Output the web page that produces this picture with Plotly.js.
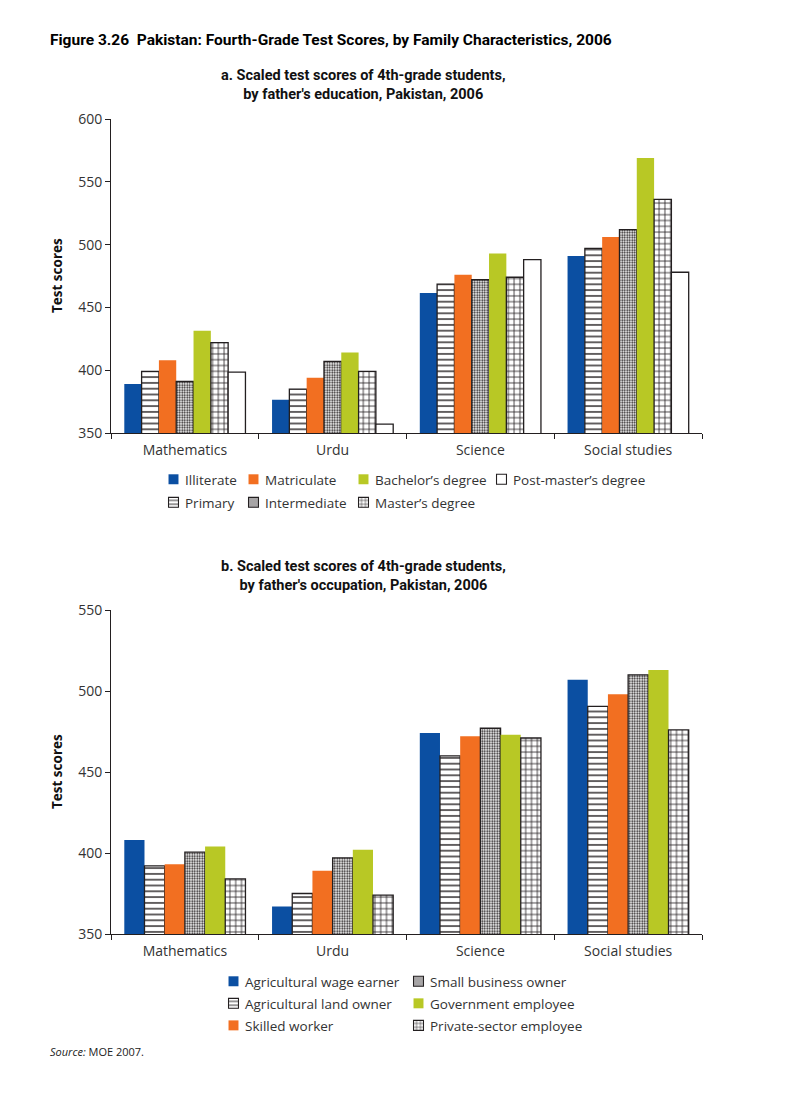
<!DOCTYPE html>
<html>
<head>
<meta charset="utf-8">
<script src="https://cdn.plot.ly/plotly-3.0.1.min.js"></script>
<style>html,body{margin:0;padding:0;background:#fff;}#chart{width:812px;height:1104px;}</style>
</head>
<body>
<div id="chart"></div>
<script>
// ---------- DATA ----------
const subjects = ['Mathematics', 'Urdu', 'Science', 'Social studies'];

// Panel a: by father's education
const eduLevels = ['Illiterate', 'Primary', 'Matriculate', 'Intermediate',
  'Bachelor\u2019s degree', 'Master\u2019s degree', 'Post-master\u2019s degree'];
const illiterate   = [389, 376.5, 461.5, 491];
const primary      = [399, 385, 468.5, 497];
const matriculate  = [408, 394, 476, 506];
const intermediate = [391, 407, 472, 512];
const bachelor     = [431.5, 414, 493, 569];
const masters      = [422, 399, 474, 536];
const postMasters  = [398.5, 357, 488, 478];
const eduValues = [illiterate, primary, matriculate, intermediate, bachelor, masters, postMasters];

// Panel b: by father's occupation
const occupations = ['Agricultural wage earner', 'Agricultural land owner', 'Skilled worker',
  'Small business owner', 'Government employee', 'Private-sector employee'];
const agWageEarner   = [408, 367, 474, 507];
const agLandOwner    = [392, 375, 460, 490.5];
const skilledWorker  = [393, 389, 472, 498];
const smallBusiness  = [400.5, 397, 477, 510];
const govtEmployee   = [404, 402, 473, 513];
const privateSector  = [384, 374, 471, 476];
const occValues = [agWageEarner, agLandOwner, skilledWorker, smallBusiness, govtEmployee, privateSector];

const yTicksA = [350, 400, 450, 500, 550, 600];
const yTicksB = [350, 400, 450, 500, 550];

// ---------- STYLES ----------
const W = 812, H = 1104;
const px = x => x / W;
const py = y => 1 - y / H;
const FONT = 'Open Sans, Noto Sans, sans-serif';
const TITLE_FONT = 'Liberation Sans Narrow, Roboto, Noto Sans, sans-serif';
const INK = '#231f20';
const TXT = '#333333';

const BLUE = '#0b4fa2', ORANGE = '#f26f21', GREEN = '#b8c825';
const solid = c => ({color: c, line: {width: 0}});
const pat = (shape, size, sol) => ({color: 'white', line: {width: 1.3, color: INK},
  pattern: {shape: shape, size: size, solidity: sol, fgcolor: INK, bgcolor: 'white', fillmode: 'replace'}});
const plain = {color: 'white', line: {width: 1.3, color: INK}};
const HLINES = pat('-', 5.8, 0.24);
const CHECK = pat('.', 2.5, 0.45);
const GRID = pat('+', 5.8, 0.26);

const eduStyles = [solid(BLUE), HLINES, solid(ORANGE), CHECK, solid(GREEN), GRID, plain];
const eduLegend = ['legend', 'legend', 'legend2', 'legend2', 'legend3', 'legend3', 'legend4'];
const occStyles = [solid(BLUE), HLINES, solid(ORANGE), CHECK, solid(GREEN), GRID];
const occLegend = ['legend5', 'legend5', 'legend5', 'legend6', 'legend6', 'legend6'];

const traces = [];
eduLevels.forEach((name, i) => {
  traces.push({type: 'bar', name: name, x: subjects, y: eduValues[i], xaxis: 'x', yaxis: 'y',
    marker: eduStyles[i], legend: eduLegend[i], legendgroup: 'a' + i, hoverinfo: 'y+name'});
});
occupations.forEach((name, i) => {
  traces.push({type: 'bar', name: name, x: subjects, y: occValues[i], xaxis: 'x2', yaxis: 'y2',
    marker: occStyles[i], legend: occLegend[i], legendgroup: 'b' + i, hoverinfo: 'y+name'});
});

const xAx = (domain, anchor) => ({domain: domain, anchor: anchor, type: 'category',
  showline: true, linecolor: INK, linewidth: 1, ticks: 'outside', tickson: 'boundaries',
  ticklen: 5, tickcolor: INK, tickwidth: 1, showgrid: false, zeroline: false,
  ticklabelstandoff: 4,
  tickfont: {family: FONT, size: 14, color: TXT}, fixedrange: true});
const yAx = (domain, anchor, range, vals) => ({domain: domain, anchor: anchor, range: range,
  tickvals: vals, showline: true, linecolor: INK, linewidth: 1, ticks: 'outside', ticklen: 5,
  tickcolor: INK, tickwidth: 1, showgrid: false, zeroline: false,
  tickfont: {family: FONT, size: 14, color: TXT}, fixedrange: true});

const legBase = (x, y, gap) => ({x: px(x), y: py(y), xanchor: 'left', yanchor: 'top',
  orientation: 'v', bgcolor: 'rgba(0,0,0,0)', borderwidth: 0, itemwidth: 30,
  traceorder: 'grouped', tracegroupgap: gap, font: {family: FONT, size: 13.5, color: TXT},
  itemclick: false, itemdoubleclick: false});

const layout = {
  width: W, height: H, margin: {l: 0, r: 0, t: 0, b: 0},
  paper_bgcolor: 'white', plot_bgcolor: 'white',
  barmode: 'group', bargap: 0.18, bargroupgap: 0,
  xaxis: xAx([px(111), px(702)], 'y'),
  yaxis: yAx([py(433), py(119)], 'x', [350, 600], yTicksA),
  xaxis2: xAx([px(111), px(702)], 'y2'),
  yaxis2: yAx([py(934), py(610)], 'x2', [350, 550], yTicksB),
  showlegend: true,
  legend:  legBase(145, 464, 2.5),
  legend2: legBase(225, 464, 2.5),
  legend3: legBase(335, 464, 2.5),
  legend4: legBase(473, 464, 2.5),
  legend5: legBase(205, 966, 1.5),
  legend6: legBase(390, 966, 1.5),
  annotations: [
    {xref: 'paper', yref: 'paper', x: px(48), y: py(40), xanchor: 'left', yanchor: 'middle',
     showarrow: false, text: '<b>Figure 3.26  Pakistan: Fourth-Grade Test Scores, by Family Characteristics, 2006</b>',
     font: {family: TITLE_FONT, size: 15.5, color: '#000'}},
    {xref: 'paper', yref: 'paper', x: px(363), y: py(85), xanchor: 'center', yanchor: 'middle',
     showarrow: false, align: 'center',
     text: '<b>a. Scaled test scores of 4th-grade students,<br>by father\'s education, Pakistan, 2006</b>',
     font: {family: TITLE_FONT, size: 14.5, color: '#111'}},
    {xref: 'paper', yref: 'paper', x: px(363), y: py(576), xanchor: 'center', yanchor: 'middle',
     showarrow: false, align: 'center',
     text: '<b>b. Scaled test scores of 4th-grade students,<br>by father\'s occupation, Pakistan, 2006</b>',
     font: {family: TITLE_FONT, size: 14.5, color: '#111'}},
    {xref: 'paper', yref: 'paper', x: px(57), y: py(276), xanchor: 'center', yanchor: 'middle',
     showarrow: false, textangle: -90, text: '<b>Test scores</b>',
     font: {family: FONT, size: 13.5, color: '#111'}},
    {xref: 'paper', yref: 'paper', x: px(57), y: py(772), xanchor: 'center', yanchor: 'middle',
     showarrow: false, textangle: -90, text: '<b>Test scores</b>',
     font: {family: FONT, size: 13.5, color: '#111'}},
    {xref: 'paper', yref: 'paper', x: px(48), y: py(1051), xanchor: 'left', yanchor: 'middle',
     showarrow: false, text: '<i>Source:</i> MOE 2007.',
     font: {family: FONT, size: 11, color: '#222'}}
  ]
};

Plotly.newPlot('chart', traces, layout, {staticPlot: true, displayModeBar: false}).then(gd => {
  // tighten legend swatches next to their labels, as in the original figure
  gd.querySelectorAll('g.legendpoints').forEach(g => {
    g.setAttribute('transform', 'translate(11.9,0) scale(0.83)');
  });
});
</script>
</body>
</html>
